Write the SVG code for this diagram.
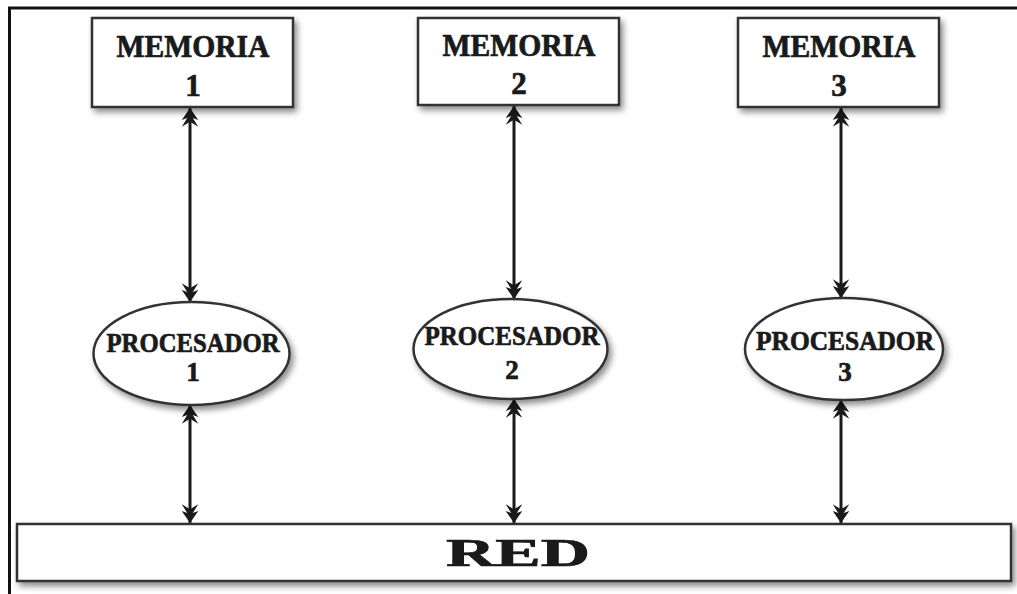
<svg xmlns="http://www.w3.org/2000/svg" width="1017" height="594" viewBox="0 0 1017 594">
  <defs>
    <filter id="shadow" x="-10%" y="-20%" width="125%" height="150%">
      <feDropShadow dx="3" dy="4" stdDeviation="3" flood-color="#000" flood-opacity="0.45"/>
    </filter>
    <!-- barbed double arrowhead, tip at origin -->
    <marker id="head" markerUnits="userSpaceOnUse" markerWidth="22" markerHeight="22" viewBox="-18 -9 20 18" refX="0" refY="0" orient="auto-start-reverse">
      <path d="M0,0 L-11,-7.5 L-9,-2.5 L-17,-7.5 L-12.5,0 L-17,7.5 L-9,2.5 L-11,7.5 Z" fill="#1a1a1a"/>
    </marker>
    <style>
      .box { fill: #fff; stroke: #333; stroke-width: 2.5; filter: url(#shadow); }
      .label { font-family: "Liberation Serif", "DejaVu Serif", serif; font-weight: bold; fill: #1a1a1a; stroke: #1a1a1a; stroke-width: 0.7; text-anchor: middle; }
      .mem { font-size: 31px; }
      .proc { font-size: 27px; }
      .red { font-size: 40px; }
      .link { stroke: #1a1a1a; stroke-width: 3; fill: none; marker-start: url(#head); marker-end: url(#head); }
    </style>
  </defs>

  <rect width="1017" height="594" fill="#fff"/>
  <!-- outer frame -->
  <path d="M9.5,594 V8 H1017" fill="none" stroke="#111" stroke-width="3"/>

  <g id="connectors">
    <line class="link" x1="190" y1="108" x2="190" y2="302"/>
    <line class="link" x1="190" y1="405" x2="190" y2="523"/>
    <line class="link" x1="514" y1="106" x2="514" y2="299"/>
    <line class="link" x1="514" y1="399" x2="514" y2="523"/>
    <line class="link" x1="841" y1="108" x2="841" y2="298"/>
    <line class="link" x1="841" y1="400" x2="841" y2="523"/>
  </g>

  <g id="memoria1">
    <rect class="box" x="92" y="18" width="201" height="89"/>
    <text class="label mem" x="193" y="57" textLength="153" lengthAdjust="spacingAndGlyphs">MEMORIA</text>
    <text class="label mem" x="193" y="96">1</text>
  </g>
  <g id="memoria2">
    <rect class="box" x="418" y="18" width="201" height="87"/>
    <text class="label mem" x="519" y="56" textLength="153" lengthAdjust="spacingAndGlyphs">MEMORIA</text>
    <text class="label mem" x="519" y="94">2</text>
  </g>
  <g id="memoria3">
    <rect class="box" x="738" y="18" width="201" height="89"/>
    <text class="label mem" x="839" y="57" textLength="153" lengthAdjust="spacingAndGlyphs">MEMORIA</text>
    <text class="label mem" x="839" y="96">3</text>
  </g>

  <g id="procesador1">
    <ellipse class="box" cx="191.5" cy="353.5" rx="98" ry="51.5"/>
    <text class="label proc" x="193" y="352" textLength="173" lengthAdjust="spacingAndGlyphs">PROCESADOR</text>
    <text class="label proc" x="193" y="381">1</text>
  </g>
  <g id="procesador2">
    <ellipse class="box" cx="510.5" cy="349" rx="97" ry="50"/>
    <text class="label proc" x="512" y="345" textLength="175" lengthAdjust="spacingAndGlyphs">PROCESADOR</text>
    <text class="label proc" x="512" y="379">2</text>
  </g>
  <g id="procesador3">
    <ellipse class="box" cx="844" cy="349" rx="99" ry="51"/>
    <text class="label proc" x="845" y="350" textLength="178" lengthAdjust="spacingAndGlyphs">PROCESADOR</text>
    <text class="label proc" x="845" y="381">3</text>
  </g>

  <g id="red">
    <rect class="box" x="17" y="524" width="994" height="57"/>
    <text class="label red" x="518" y="566" textLength="144" lengthAdjust="spacingAndGlyphs">RED</text>
  </g>
</svg>
